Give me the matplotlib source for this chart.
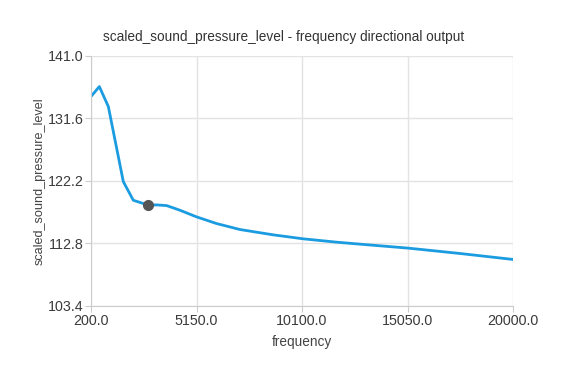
import matplotlib.pyplot as plt
import numpy as np

plt.rcParams['font.family'] = ['Liberation Sans', 'DejaVu Sans']

freq = [200, 590, 1013, 1716, 2185, 2858, 3300, 3750, 4373, 5155, 6090, 7190,
        8750, 10160, 11720, 12820, 15090, 17500, 20000]
spl = [134.9, 136.4, 133.4, 122.1, 119.3, 118.6, 118.6, 118.5, 117.8, 116.8,
       115.8, 114.9, 114.1, 113.5, 113.0, 112.7, 112.1, 111.3, 110.4]
marker_freq = 2858
marker_spl = 118.6
x_ticks = [200.0, 5150.0, 10100.0, 15050.0, 20000.0]
y_ticks = [103.4, 112.8, 122.2, 131.6, 141.0]

fig = plt.figure(figsize=(5.67, 3.78), dpi=100)
ax = fig.add_axes([0.1605, 0.1905, 0.7443, 0.6614])
ax.plot(freq, spl, color='#1c9ce0', linewidth=2)
ax.plot([marker_freq], [marker_spl], 'o', color='#555555', markersize=7)

ax.set_xlim(200, 20000)
ax.set_ylim(103.4, 141.0)
ax.set_xticks(x_ticks)
ax.set_yticks(y_ticks)
ax.set_xticklabels([f'{v:.1f}' for v in x_ticks])
ax.set_yticklabels([f'{v:.1f}' for v in y_ticks])
ax.grid(color='#e3e3e3', linewidth=1)
ax.set_axisbelow(True)
for side in ['top', 'right']:
    ax.spines[side].set_visible(False)
for side in ['left', 'bottom']:
    ax.spines[side].set_color('#cccccc')
ax.tick_params(colors='#cccccc', labelcolor='#3a3a3a', labelsize=10.3, length=4,
               pad=1.5)

ax.set_xlabel('frequency', fontsize=9.8, color='#444444', labelpad=5)
ax.set_ylabel('scaled_sound_pressure_level', fontsize=9.1, color='#444444')
ax.yaxis.set_label_coords(-0.108, 0.5)
fig.text(0.5, 0.902, 'scaled_sound_pressure_level - frequency directional output',
         fontsize=9.8, color='#333333', ha='center', va='center')

fig.savefig('out.png', dpi=100)
plt.close()
